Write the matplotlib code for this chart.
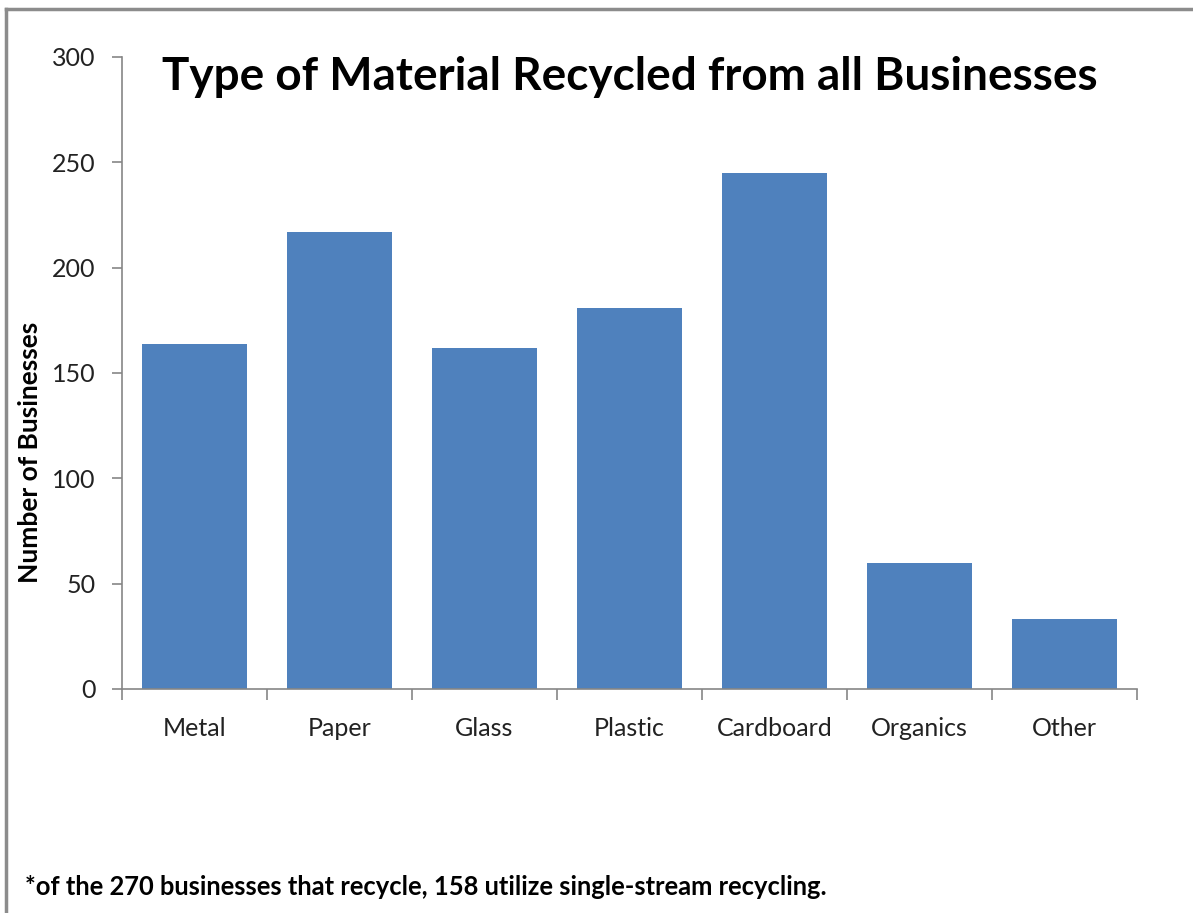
import matplotlib.pyplot as plt
from matplotlib.lines import Line2D

# Data
categories = ['Metal', 'Paper', 'Glass', 'Plastic', 'Cardboard', 'Organics', 'Other']
counts = [164, 217, 162, 181, 245, 60, 33]
y_ticks = [0, 50, 100, 150, 200, 250, 300]

title = 'Type of Material Recycled from all Businesses'
y_label = 'Number of Businesses'
footnote = '*of the 270 businesses that recycle, 158 utilize single-stream recycling.'

plt.rcParams['font.family'] = ['Lato', 'DejaVu Sans']

W, H = 1193, 913
fig = plt.figure(figsize=(W / 100, H / 100), dpi=100)
ax = fig.add_axes([122 / W, 1 - 689 / H, (1137 - 122) / W, (689 - 57) / H])

x = list(range(len(categories)))
ax.bar(x, counts, width=0.72, color='#4F81BD', zorder=2)

ax.set_xlim(-0.5, len(categories) - 0.5)
ax.set_ylim(0, 300)
ax.set_yticks(y_ticks)
ax.set_yticklabels([str(t) for t in y_ticks], fontsize=18, color='#222222')

# category labels centred, ticks on category boundaries
ax.set_xticks(x)
ax.set_xticklabels(categories, fontsize=18, color='#222222')
ax.tick_params(axis='x', which='major', length=0, pad=20)
ax.set_xticks([i - 0.5 for i in range(len(categories) + 1)], minor=True)
ax.tick_params(axis='x', which='minor', length=8, width=1.2, color='#868686', direction='out')
ax.tick_params(axis='y', length=7, width=1.2, color='#868686', direction='out', pad=12)

for s in ['top', 'right']:
    ax.spines[s].set_visible(False)
for s in ['left', 'bottom']:
    ax.spines[s].set_color('#868686')
    ax.spines[s].set_linewidth(1.2)

ax.text(0.5, 0.968, title, transform=ax.transAxes, ha='center', va='center',
        fontsize=33, fontweight='bold', color='black')

fig.text(30 / W, 1 - 452 / H, y_label, rotation=90, ha='center', va='center',
         fontsize=19, fontweight='bold', color='black')

fig.text(25 / W, 1 - 887 / H, footnote, ha='left', va='center',
         fontsize=18.4, fontweight='bold', color='black')

# grey frame on the left and top edges
fig.add_artist(Line2D([6 / W, 6 / W], [0, 1 - 9 / H], transform=fig.transFigure,
                      color='#8C8C8C', linewidth=2.5))
fig.add_artist(Line2D([6 / W, 1], [1 - 9 / H, 1 - 9 / H], transform=fig.transFigure,
                      color='#8C8C8C', linewidth=2.5))

fig.savefig('out.png', dpi=100)
